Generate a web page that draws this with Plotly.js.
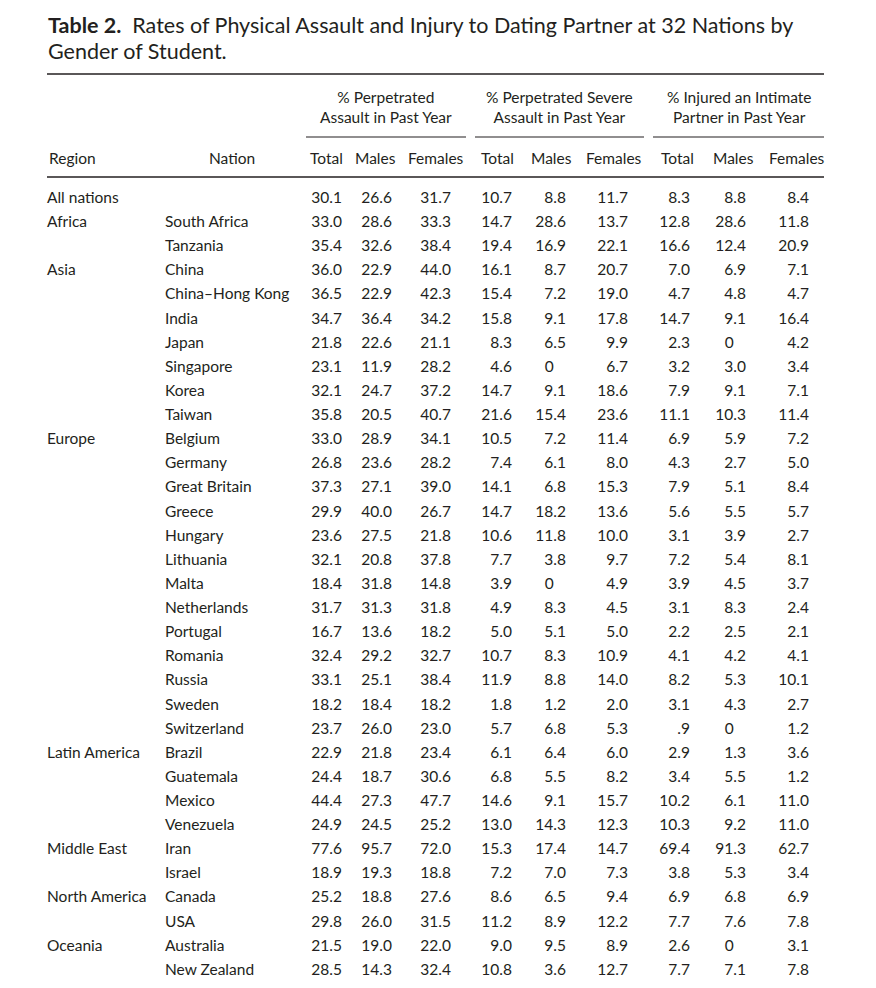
<!DOCTYPE html>
<html>
<head>
<meta charset="utf-8">
<script src="https://cdn.plot.ly/plotly-3.0.1.min.js"></script>
<style>html,body{margin:0;padding:0;background:#fff;}#chart{width:876px;height:988px;}</style>
</head>
<body>
<div id="chart"></div>
<script>
// ---------- DATA ----------
const titleBold = "Table 2.";
const titleText = "Rates of Physical Assault and Injury to Dating Partner at 32 Nations by";
const titleLine2 = "Gender of Student.";

const groupHeaders = ["% Perpetrated<br>Assault in Past Year", "% Perpetrated Severe<br>Assault in Past Year", "% Injured an Intimate<br>Partner in Past Year"];
const columnHeaders = ["Total", "Males", "Females", "Total", "Males", "Females", "Total", "Males", "Females"];

const regions = ["All nations","Africa","","Asia","","","","","","","Europe","","","","","","","","","","","","","Latin America","","","","Middle East","","North America","","Oceania",""];
const nations = ["","South Africa","Tanzania","China","China\u2013Hong Kong","India","Japan","Singapore","Korea","Taiwan","Belgium","Germany","Great Britain","Greece","Hungary","Lithuania","Malta","Netherlands","Portugal","Romania","Russia","Sweden","Switzerland","Brazil","Guatemala","Mexico","Venezuela","Iran","Israel","Canada","USA","Australia","New Zealand"];

const assaultTotal   = [30.1,33.0,35.4,36.0,36.5,34.7,21.8,23.1,32.1,35.8,33.0,26.8,37.3,29.9,23.6,32.1,18.4,31.7,16.7,32.4,33.1,18.2,23.7,22.9,24.4,44.4,24.9,77.6,18.9,25.2,29.8,21.5,28.5];
const assaultMales   = [26.6,28.6,32.6,22.9,22.9,36.4,22.6,11.9,24.7,20.5,28.9,23.6,27.1,40.0,27.5,20.8,31.8,31.3,13.6,29.2,25.1,18.4,26.0,21.8,18.7,27.3,24.5,95.7,19.3,18.8,26.0,19.0,14.3];
const assaultFemales = [31.7,33.3,38.4,44.0,42.3,34.2,21.1,28.2,37.2,40.7,34.1,28.2,39.0,26.7,21.8,37.8,14.8,31.8,18.2,32.7,38.4,18.2,23.0,23.4,30.6,47.7,25.2,72.0,18.8,27.6,31.5,22.0,32.4];
const severeTotal    = [10.7,14.7,19.4,16.1,15.4,15.8,8.3,4.6,14.7,21.6,10.5,7.4,14.1,14.7,10.6,7.7,3.9,4.9,5.0,10.7,11.9,1.8,5.7,6.1,6.8,14.6,13.0,15.3,7.2,8.6,11.2,9.0,10.8];
const severeMales    = [8.8,28.6,16.9,8.7,7.2,9.1,6.5,0,9.1,15.4,7.2,6.1,6.8,18.2,11.8,3.8,0,8.3,5.1,8.3,8.8,1.2,6.8,6.4,5.5,9.1,14.3,17.4,7.0,6.5,8.9,9.5,3.6];
const severeFemales  = [11.7,13.7,22.1,20.7,19.0,17.8,9.9,6.7,18.6,23.6,11.4,8.0,15.3,13.6,10.0,9.7,4.9,4.5,5.0,10.9,14.0,2.0,5.3,6.0,8.2,15.7,12.3,14.7,7.3,9.4,12.2,8.9,12.7];
const injuredTotal   = [8.3,12.8,16.6,7.0,4.7,14.7,2.3,3.2,7.9,11.1,6.9,4.3,7.9,5.6,3.1,7.2,3.9,3.1,2.2,4.1,8.2,3.1,0.9,2.9,3.4,10.2,10.3,69.4,3.8,6.9,7.7,2.6,7.7];
const injuredMales   = [8.8,28.6,12.4,6.9,4.8,9.1,0,3.0,9.1,10.3,5.9,2.7,5.1,5.5,3.9,5.4,4.5,8.3,2.5,4.2,5.3,4.3,0,1.3,5.5,6.1,9.2,91.3,5.3,6.8,7.6,0,7.1];
const injuredFemales = [8.4,11.8,20.9,7.1,4.7,16.4,4.2,3.4,7.1,11.4,7.2,5.0,8.4,5.7,2.7,8.1,3.7,2.4,2.1,4.1,10.1,2.7,1.2,3.6,1.2,11.0,11.0,62.7,3.4,6.9,7.8,3.1,7.8];

// ---------- LAYOUT / STYLE ----------
const W = 876, H = 988;
const FONT = "Lato, 'Open Sans', sans-serif";
const INK = "#231f20";
const BODY = 15.5;
const TITLE = 21.5;
const ROW0 = 199, ROWH = 24.125;          // pixel centre of first row, row pitch
const rowOf = p => (p - ROW0) / ROWH;     // pixel -> row units (y axis)
const colRight = [342, 392, 451, 512, 566, 628, 690, 746, 809];
const colHeadCenter = [326, 375, 436, 497, 551, 614, 677, 733, 797];
const groupSpan = [[306, 466], [475, 644], [653, 824]];
const regionX = 47, nationX = 165, tableL = 47, tableR = 824;

const series = [assaultTotal, assaultMales, assaultFemales, severeTotal, severeMales, severeFemales, injuredTotal, injuredMales, injuredFemales];
const rowIdx = nations.map((_, i) => i);

function fmt(v) {
  if (v === 0) return "0\u2008\u2007";
  let s = v.toFixed(1);
  if (v > 0 && v < 1) s = s.slice(1);
  return s;
}

const traces = [];
traces.push({type: "scatter", mode: "text", x: rowIdx.map(() => regionX), y: rowIdx, text: regions,
  textposition: "middle right", textfont: {family: FONT, size: BODY, color: INK}, hoverinfo: "skip", showlegend: false});
traces.push({type: "scatter", mode: "text", x: rowIdx.map(() => nationX), y: rowIdx, text: nations,
  textposition: "middle right", textfont: {family: FONT, size: BODY, color: INK}, hoverinfo: "skip", showlegend: false});
series.forEach((vals, c) => {
  traces.push({type: "scatter", mode: "text", x: vals.map(() => colRight[c]), y: rowIdx, text: vals.map(fmt),
    textposition: "middle left", textfont: {family: FONT, size: BODY, color: INK}, hoverinfo: "skip", showlegend: false});
});

const annotations = [];
annotations.push({xref: "paper", yref: "paper", x: (regionX - 1) / W, y: 1 - 25 / H, xanchor: "left", yanchor: "middle", align: "left",
  showarrow: false, text: "<b>" + titleBold + "</b>  " + titleText, font: {family: FONT, size: TITLE, color: INK}});
annotations.push({xref: "paper", yref: "paper", x: (regionX - 1) / W, y: 1 - 51 / H, xanchor: "left", yanchor: "middle", align: "left",
  showarrow: false, text: titleLine2, font: {family: FONT, size: TITLE, color: INK}});
groupHeaders.forEach((t, g) => {
  annotations.push({xref: "x", yref: "y", x: (groupSpan[g][0] + groupSpan[g][1]) / 2, y: rowOf(106.5), text: t,
    showarrow: false, xanchor: "center", yanchor: "middle", align: "center", font: {family: FONT, size: BODY, color: INK}});
});
columnHeaders.forEach((t, c) => {
  annotations.push({xref: "x", yref: "y", x: colHeadCenter[c], y: rowOf(158), text: t,
    showarrow: false, xanchor: "center", yanchor: "middle", font: {family: FONT, size: BODY, color: INK}});
});
annotations.push({xref: "x", yref: "y", x: regionX, y: rowOf(158), text: "Region", showarrow: false, xanchor: "left", yanchor: "middle", font: {family: FONT, size: BODY, color: INK}});
annotations.push({xref: "x", yref: "y", x: 232, y: rowOf(158), text: "Nation", showarrow: false, xanchor: "center", yanchor: "middle", font: {family: FONT, size: BODY, color: INK}});

const shapes = [];
const hline = (x0, x1, yp, w) => shapes.push({type: "line", xref: "x", yref: "y", x0: x0, x1: x1, y0: rowOf(yp), y1: rowOf(yp), line: {color: INK, width: w}});
hline(tableL, tableR, 74, 1.3);
groupSpan.forEach(s => hline(s[0], s[1], 137, 1.2));
hline(tableL, tableR, 177, 1.3);

const layout = {
  width: W, height: H,
  margin: {l: 0, r: 0, t: 0, b: 0},
  paper_bgcolor: "#fff", plot_bgcolor: "#fff",
  xaxis: {range: [0, W], visible: false, fixedrange: true},
  yaxis: {range: [rowOf(H), rowOf(0)], visible: false, fixedrange: true},
  showlegend: false,
  annotations: annotations,
  shapes: shapes
};

Plotly.newPlot("chart", traces, layout, {displayModeBar: false, staticPlot: true});
</script>
</body>
</html>
